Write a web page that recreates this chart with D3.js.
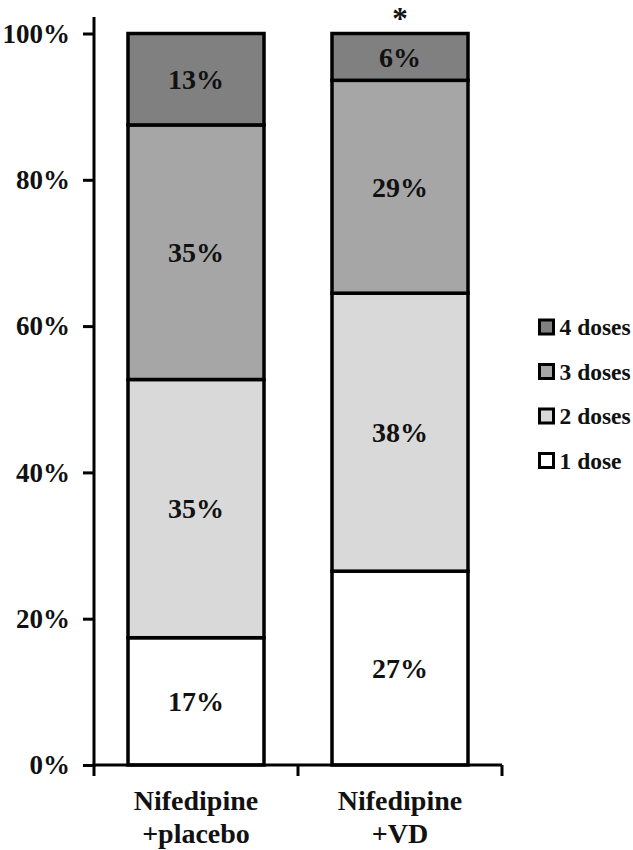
<!DOCTYPE html>
<html lang="en">
<head>
<meta charset="UTF-8">
<script src="https://cdn.jsdelivr.net/npm/d3@7"></script>
<title>Doses stacked bars</title>
<style>
    html, body { margin: 0; padding: 0; background: #fff; }
    svg { display: block; font-family: "Liberation Serif", "Times New Roman", serif; font-weight: bold; }
</style>
</head>
<body>
<div id="chart"></div>
<script>
    // data
    let groups = ['Nifedipine\n+placebo', 'Nifedipine\n+VD'];
    let doses = ['1 dose', '2 doses', '3 doses', '4 doses'];
    let placebo = [17.4, 35.3, 34.8, 12.5];
    let vd = [26.5, 38.0, 29.1, 6.4];
    let yTicks = [0, 20, 40, 60, 80, 100];
    let colors = ['#ffffff', '#d9d9d9', '#a6a6a6', '#808080'];

    let width = 633, height = 850;

    let svg = d3.select('#chart').append('svg')
        .attr('width', width).attr('height', height);

    let rows = [placebo, vd].map((vals, i) => {
        let r = { group: groups[i] };
        doses.forEach((d, j) => r[d] = vals[j]);
        return r;
    });

    let x = d3.scaleBand().domain(groups).range([94, 502])
        .paddingInner(1 / 3).paddingOuter(1 / 6);
    let y = d3.scaleLinear().domain([0, 100]).range([765, 33.5]);
    let color = d3.scaleOrdinal().domain(doses).range(colors);

    let series = d3.stack().keys(doses)(rows);

    // bars
    let layer = svg.selectAll('g.layer')
        .data(series)
        .join('g')
        .attr('class', 'layer');

    layer.selectAll('rect')
        .data(s => s.map(p => ({ key: s.key, p: p })))
        .join('rect')
        .attr('x', d => x(d.p.data.group))
        .attr('width', x.bandwidth())
        .attr('y', d => y(d.p[1]))
        .attr('height', d => y(d.p[0]) - y(d.p[1]))
        .attr('fill', d => color(d.key))
        .attr('stroke', '#000')
        .attr('stroke-width', 3.5);

    layer.selectAll('text')
        .data(s => s.map(p => ({ key: s.key, p: p })))
        .join('text')
        .attr('x', d => x(d.p.data.group) + x.bandwidth() / 2)
        .attr('y', d => (y(d.p[0]) + y(d.p[1])) / 2)
        .attr('dy', '0.35em')
        .attr('text-anchor', 'middle')
        .attr('font-size', 28)
        .attr('fill', '#111')
        .text(d => Math.round(d.p[1] - d.p[0]) + '%');

    // y axis
    let yAxis = svg.append('g')
        .attr('transform', 'translate(94,0)')
        .call(d3.axisLeft(y).tickValues(yTicks).tickFormat(d => d + '%').tickSize(11).tickPadding(13));
    yAxis.select('.domain').remove();
    yAxis.selectAll('line').attr('stroke', '#000').attr('stroke-width', 3);
    yAxis.selectAll('text')
        .attr('font-size', 27)
        .attr('font-family', '"Liberation Serif", serif')
        .attr('font-weight', 'bold')
        .attr('fill', '#111');
    svg.append('line')
        .attr('x1', 94).attr('x2', 94)
        .attr('y1', 17).attr('y2', 766.5)
        .attr('stroke', '#000').attr('stroke-width', 3);

    // x axis
    let xEdges = [x.range()[0], x.range()[0] + x.step(), x.range()[1]];
    svg.append('line')
        .attr('x1', 92.5).attr('x2', 502)
        .attr('y1', 765).attr('y2', 765)
        .attr('stroke', '#000').attr('stroke-width', 3);
    svg.selectAll('line.xtick')
        .data(xEdges)
        .join('line')
        .attr('class', 'xtick')
        .attr('x1', d => d).attr('x2', d => d)
        .attr('y1', 765).attr('y2', 776)
        .attr('stroke', '#000').attr('stroke-width', 3);

    svg.selectAll('text.cat')
        .data(groups)
        .join('text')
        .attr('class', 'cat')
        .attr('text-anchor', 'middle')
        .attr('font-size', 28)
        .attr('fill', '#111')
        .each(function (g) {
            let t = d3.select(this);
            g.split('\n').forEach((line, i) => {
                t.append('tspan')
                    .attr('x', x(g) + x.bandwidth() / 2)
                    .attr('y', 810 + i * 33)
                    .text(line);
            });
        });

    // significance mark
    svg.append('text')
        .attr('x', x(groups[1]) + x.bandwidth() / 2)
        .attr('y', 29)
        .attr('text-anchor', 'middle')
        .attr('font-size', 31)
        .attr('fill', '#111')
        .text('*');

    // legend
    let legend = svg.selectAll('g.legend')
        .data(doses.slice().reverse())
        .join('g')
        .attr('class', 'legend')
        .attr('transform', (d, i) => `translate(539.5,${327 + i * 44.5})`);
    legend.append('rect')
        .attr('x', 0).attr('y', -7)
        .attr('width', 14).attr('height', 14)
        .attr('fill', d => color(d))
        .attr('stroke', '#000').attr('stroke-width', 3);
    legend.append('text')
        .attr('x', 20).attr('dy', '0.35em')
        .attr('font-size', 23.5)
        .attr('fill', '#111')
        .text(d => d);
</script>
</body>
</html>
